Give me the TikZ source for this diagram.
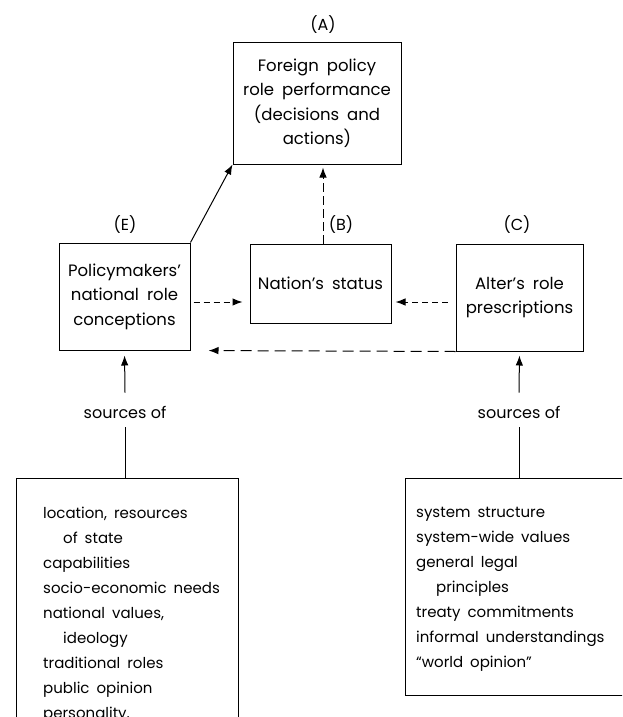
\documentclass[tikz,border=0pt]{standalone}
\usepackage{fontspec}
\setmainfont{Poppins}
\usetikzlibrary{positioning, arrows.meta}
\newcommand\widegap[1]{\spaceskip=#1 plus 1pt\relax}

\tikzset{
  box/.style = {draw, line width = 1pt, align = center, inner sep = 0pt,
    font = \fontsize{16.5}{24.5}\selectfont\widegap{8pt}},
  lbl/.style = {font = \fontsize{16}{24}\selectfont, inner sep = 1pt},
  lst/.style = {anchor = north west, align = left, inner sep = 0pt,
    font = \fontsize{15}{25}\selectfont\widegap{7pt}},
  arr/.style = {line width = 1pt, -{Latex[length = 10pt, width = 7.5pt]}},
  dsh/.style = {arr, dash pattern = on 6pt off 4pt}
}

\begin{document}
\begin{tikzpicture}[x = 1pt, y = -1pt]% role theory
	\clip (0,0) rectangle (622,717);
	\node[box, minimum width = 168, minimum height = 121](A) at (317,103.5){Foreign policy\\role performance\\(decisions and\\actions)};
	\node[box, minimum width = 131, minimum height = 107](E) at (124.5,296.5){Policymakers'\\national role\\conceptions};
	\node[box, minimum width = 141, minimum height = 79](B) at (320.5,283.5){Nation's status};
	\node[box, minimum width = 127, minimum height = 107](C) at (519.5,297.5){Alter's role\\prescriptions};
	\node[lbl] at (323,25){(A)};
	\node[lbl] at (125,225){(E)};
	\node[lbl] at (341,225){(B)};
	\node[lbl] at (517,225){(C)};
	\node[lbl](SL) at (125,412){sources of};
	\node[lbl](SR) at (519,412){sources of};
	\draw[line width = 1pt]
	(16,478) rectangle (238,760) coordinate(LB)
	(405,478) rectangle (660,695) coordinate(RB);
	\node[lst](LT) at (43,507){location, resources\\
		\hspace{20pt}of state\\
		capabilities\\
		socio-economic needs\\
		national values,\\
		\hspace{20pt}ideology\\
		traditional roles\\
		public opinion\\
		personality,};
	\node[lst](RT) at (416,507){system structure\\
		system-wide values\\
		general legal\\
		\hspace{20pt}principles\\
		treaty commitments\\
		informal understandings\\
		``world opinion''};
	\draw[arr] (E.north east) -- (A.south west);
	\draw[dsh, dash pattern = on 9pt off 4pt, shorten > = 3pt] (B.north -| 323,0) -- (A.south -| 323,0);
	\draw[dsh, shorten < = 3pt, shorten > = 7pt] ([yshift = -5.5pt]E.east) -- ([yshift = -18.5pt]B.west);
	\draw[dsh, shorten < = 8pt, shorten > = 4pt] ([yshift = -4.5pt]C.west) -- ([yshift = -18.5pt]B.east);
	\draw[dsh, dash pattern = on 11pt off 6pt, shorten > = 18pt] (C.south west) -- (E.south east);
	\draw[arr, shorten > = 5pt] (SL.north) ++(0,-12) -- (E.south);
	\draw[line width = 1pt] (SL.south) ++(0,8) -- (125,478);
	\draw[arr, shorten > = 4pt] (SR.north) ++(0,-12) -- (C.south);
	\draw[line width = 1pt] (SR.south) ++(0,8) -- (519,478);
\end{tikzpicture}
\end{document}
